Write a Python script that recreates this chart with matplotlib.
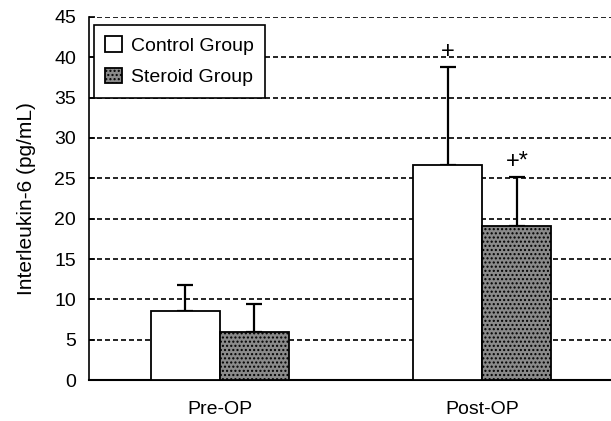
import numpy as np
import matplotlib
matplotlib.use('Agg')
import matplotlib.pyplot as plt

plt.rcParams['font.family'] = ['Liberation Sans', 'DejaVu Sans']
plt.rcParams['hatch.color'] = '#5e5e5e'

# Dati
categories = ['Pre-OP', 'Post-OP']
groups = ['Control Group', 'Steroid Group']
control_mean = [8.6, 26.6]
control_sd = [3.2, 12.2]
steroid_mean = [6.0, 19.1]
steroid_sd = [3.4, 6.1]
marks_control = ['', '+']
marks_steroid = ['', '+*']
yticks = list(range(0, 50, 5))

fig = plt.figure(figsize=(6.11, 4.21), dpi=100)
ax = fig.add_axes([0.145, 0.097, 0.855, 0.863])

x = np.arange(len(categories))
w = 0.263

ax.bar(x - w / 2, control_mean, w, color='white', edgecolor='black',
       linewidth=1.3, label=groups[0], zorder=3)
ax.bar(x + w / 2, steroid_mean, w, color='#8a8a8a', edgecolor='black',
       linewidth=1.3, hatch='....', label=groups[1], zorder=3)

err_kw = dict(fmt='none', ecolor='black', elinewidth=1.6, capsize=5.5,
              capthick=1.6, zorder=2)
ax.errorbar(x - w / 2, control_mean, yerr=[np.zeros(2), control_sd], **err_kw)
ax.errorbar(x + w / 2, steroid_mean, yerr=[np.zeros(2), steroid_sd], **err_kw)

# segni di significativita' sopra le barre di errore
for i in range(len(categories)):
    if marks_control[i]:
        ax.text(x[i] - w / 2, control_mean[i] + control_sd[i] + 1.1,
                marks_control[i], ha='center', va='baseline', fontsize=17)
    if marks_steroid[i]:
        ax.text(x[i] + w / 2, steroid_mean[i] + steroid_sd[i] + 1.1,
                marks_steroid[i], ha='center', va='baseline', fontsize=17)

ax.set_xlim(-0.5, 1.49)
ax.set_ylim(0, 45)
ax.set_yticks(yticks)
ax.set_xticks(x)
ax.set_xticklabels(categories)
ax.tick_params(axis='x', length=0, pad=15, labelsize=14)
ax.tick_params(axis='y', direction='in', length=4, width=1.2, pad=9, labelsize=14)
ax.set_ylabel('Interleukin-6 (pg/mL)', fontsize=15)
ax.yaxis.set_label_coords(-0.10, 0.5)

ax.yaxis.grid(True, color='black', linestyle=(0, (3, 1.8)), linewidth=1.2, zorder=0)
ax.set_axisbelow(True)
for s in ['top', 'right']:
    ax.spines[s].set_visible(False)
ax.spines['left'].set_linewidth(1.2)
ax.spines['bottom'].set_linewidth(1.5)

leg = ax.legend(loc='upper left', bbox_to_anchor=(0.01, 0.978), fontsize=14,
                fancybox=False, edgecolor='black', framealpha=1,
                handlelength=0.85, handleheight=0.85, handletextpad=0.45,
                borderpad=0.6, labelspacing=0.65, borderaxespad=0)
leg.get_frame().set_linewidth(1.2)

fig.savefig('out.png', dpi=100)
